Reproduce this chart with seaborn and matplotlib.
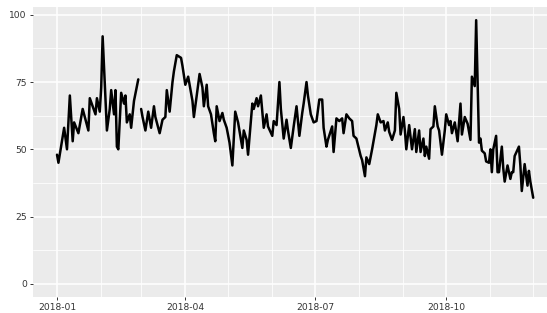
import matplotlib
matplotlib.use('Agg')
import matplotlib.pyplot as plt
import matplotlib.dates as mdates
import numpy as np
import pandas as pd
import seaborn as sns

# values (gap on 2018-02-28)
dates = [
    '2018-01-01', '2018-01-02', '2018-01-06', '2018-01-08', '2018-01-10', '2018-01-12', '2018-01-13',
    '2018-01-16', '2018-01-19', '2018-01-23', '2018-01-24', '2018-01-28', '2018-01-29', '2018-01-31',
    '2018-02-01', '2018-02-02', '2018-02-05', '2018-02-07', '2018-02-08', '2018-02-10', '2018-02-11',
    '2018-02-12', '2018-02-13', '2018-02-15', '2018-02-17', '2018-02-18', '2018-02-19', '2018-02-21',
    '2018-02-22', '2018-02-24', '2018-02-27', '2018-02-28',
    '2018-03-01', '2018-03-02', '2018-03-04', '2018-03-06', '2018-03-08', '2018-03-10', '2018-03-11',
    '2018-03-14', '2018-03-16', '2018-03-18', '2018-03-19', '2018-03-21', '2018-03-23', '2018-03-24',
    '2018-03-26', '2018-03-29', '2018-03-30',
    '2018-04-01', '2018-04-03', '2018-04-06', '2018-04-07', '2018-04-09', '2018-04-11', '2018-04-13',
    '2018-04-14', '2018-04-16', '2018-04-17', '2018-04-19', '2018-04-21', '2018-04-22', '2018-04-23',
    '2018-04-25', '2018-04-27', '2018-04-28', '2018-04-30',
    '2018-05-02', '2018-05-04', '2018-05-06', '2018-05-08', '2018-05-11', '2018-05-12', '2018-05-14',
    '2018-05-15', '2018-05-18', '2018-05-19', '2018-05-21', '2018-05-22', '2018-05-24', '2018-05-26',
    '2018-05-28', '2018-05-29',
    '2018-06-01', '2018-06-02', '2018-06-04', '2018-06-06', '2018-06-07', '2018-06-09', '2018-06-11',
    '2018-06-12', '2018-06-14', '2018-06-16', '2018-06-18', '2018-06-20', '2018-06-22', '2018-06-23',
    '2018-06-25', '2018-06-26', '2018-06-28', '2018-06-30',
    '2018-07-02', '2018-07-04', '2018-07-06', '2018-07-07', '2018-07-09', '2018-07-10', '2018-07-13',
    '2018-07-14', '2018-07-16', '2018-07-18', '2018-07-20', '2018-07-21', '2018-07-23', '2018-07-25',
    '2018-07-27', '2018-07-28', '2018-07-30',
    '2018-08-02', '2018-08-03', '2018-08-05', '2018-08-06', '2018-08-08', '2018-08-10', '2018-08-13',
    '2018-08-14', '2018-08-16', '2018-08-18', '2018-08-19', '2018-08-21', '2018-08-22', '2018-08-24',
    '2018-08-26', '2018-08-27', '2018-08-29', '2018-08-30',
    '2018-09-01', '2018-09-02', '2018-09-03', '2018-09-05', '2018-09-07', '2018-09-09', '2018-09-10',
    '2018-09-12', '2018-09-13', '2018-09-15', '2018-09-16', '2018-09-17', '2018-09-19', '2018-09-20',
    '2018-09-22', '2018-09-23', '2018-09-25', '2018-09-26', '2018-09-28', '2018-09-30',
    '2018-10-01', '2018-10-03', '2018-10-04', '2018-10-05', '2018-10-07', '2018-10-09', '2018-10-11',
    '2018-10-12', '2018-10-14', '2018-10-16', '2018-10-18', '2018-10-19', '2018-10-21', '2018-10-22',
    '2018-10-24', '2018-10-25', '2018-10-26', '2018-10-28', '2018-10-29', '2018-10-31',
    '2018-11-01', '2018-11-02', '2018-11-03', '2018-11-05', '2018-11-06', '2018-11-07', '2018-11-09',
    '2018-11-10', '2018-11-11', '2018-11-13', '2018-11-14', '2018-11-15', '2018-11-16', '2018-11-17',
    '2018-11-18', '2018-11-21', '2018-11-22', '2018-11-23', '2018-11-25', '2018-11-27', '2018-11-28',
    '2018-11-29', '2018-12-01',
]
values = [
    48, 45, 58, 50, 70, 53, 60,
    56, 65, 57, 69, 63, 69, 64,
    73, 92, 57, 65, 72, 63, 72,
    51, 50, 71, 67, 70, 60, 63,
    58, 68, 76, np.nan,
    65, 62, 57, 64, 58, 66, 62,
    56, 61, 62, 72, 64, 75, 79,
    85, 84, 81,
    74, 77, 68, 62, 70, 78, 73,
    66, 74, 66, 63, 56, 53, 66,
    60.5, 63.5, 61, 58,
    52.5, 44, 64, 60, 50.5, 57, 53.5,
    48, 67, 65, 69, 66, 70, 58,
    63, 58.5,
    55, 60.5, 59, 75, 65, 54, 61,
    57, 50.5, 58.5, 66, 55, 63.5, 67,
    75, 70, 63, 60,
    60.5, 68.5, 68.5, 58, 51, 53.5, 58.5,
    49, 61.5, 60.5, 61.5, 56, 63, 61.5,
    60.5, 55, 54,
    47.5, 46, 40, 47, 44.5, 50, 59,
    63, 60, 60.5, 57, 60, 56.5, 53.5,
    57, 71, 65, 55.5,
    62, 57, 50, 59, 50, 57.5, 49,
    57, 49, 54, 47.5, 51, 46.5, 57.5,
    58.5, 66, 58.5, 57, 48, 57,
    63, 59, 60.5, 56, 60, 53, 67,
    55.5, 62, 59.5, 53.5, 77, 73.5, 98,
    52.5, 54, 49.5, 48.5, 45.5, 45,
    50, 41.5, 50, 55, 41.5, 41.5, 51,
    43, 38, 44, 41.5, 39, 41.5, 41.5,
    47.5, 51, 44, 34.5, 44.5, 36.5, 42,
    38, 32,
]
y_ticks = [0, 25, 50, 75, 100]

df = pd.DataFrame({'date': pd.to_datetime(dates), 'value': values})
df['segment'] = df['value'].isna().cumsum()

sns.set_theme(style='darkgrid', rc={'axes.facecolor': '#EBEBEB', 'figure.facecolor': 'white'})

fig = plt.figure(figsize=(5.47, 3.13), dpi=100)
# ggplot panel runs past the right edge of the (cropped) reference
ax = fig.add_axes([33.2 / 547, 16 / 313, (557 - 33.2) / 547, 290 / 313])

sns.lineplot(data=df, x='date', y='value', units='segment', estimator=None,
             color='black', linewidth=1.8, ax=ax)

span = df['date'].max() - df['date'].min()
ax.set_xlim(df['date'].min() - 0.05 * span, df['date'].max() + 0.05 * span)
ymax = np.nanmax(values)
ax.set_ylim(-0.05 * ymax, ymax * 1.05)

ax.xaxis.set_major_locator(mdates.MonthLocator(bymonth=[1, 4, 7, 10]))
ax.xaxis.set_major_formatter(mdates.DateFormatter('%Y-%m'))
ax.xaxis.set_minor_locator(mdates.MonthLocator())
ax.set_yticks(y_ticks)
ax.set_yticks([12.5, 37.5, 62.5, 87.5], minor=True)

ax.grid(which='major', color='white', linewidth=1.1)
ax.grid(which='minor', color='white', linewidth=0.55)
ax.set_axisbelow(True)
for s in ax.spines.values():
    s.set_visible(False)

ax.tick_params(which='major', length=2.5, width=0.7, color='#333333',
               labelsize=6.6, labelcolor='#333333', pad=2)
ax.tick_params(which='minor', length=0)
ax.tick_params(axis='x', which='major', bottom=True)
ax.tick_params(axis='y', which='major', left=True)
ax.set_xlabel('')
ax.set_ylabel('')

fig.savefig('out.png', dpi=100)
